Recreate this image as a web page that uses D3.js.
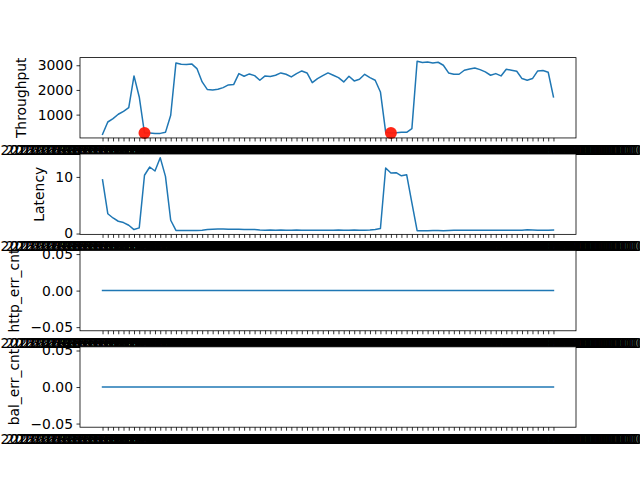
<!DOCTYPE html>
<html>
<head>
<meta charset="utf-8">
<script src="https://cdn.jsdelivr.net/npm/d3@7"></script>
<style>
  html, body { margin: 0; padding: 0; background: #fff; }
  svg { display: block; font-family: "DejaVu Sans", sans-serif; }
</style>
</head>
<body>
<script>
// ---------------- data ----------------
const throughput = [203,701,840,1014,1135,1285,2568,1716,256,256,
  240,240,282,973,3095,3041,3027,3054,2865,2324,
  2014,2000,2027,2095,2203,2216,2662,2554,2649,2581,
  2392,2568,2541,2595,2689,2635,2527,2662,2770,2689,
  2297,2460,2581,2689,2595,2500,2324,2554,2365,2432,
  2635,2500,2392,1919,290,260,270,283,283,432,
  3162,3108,3135,3095,3122,3000,2689,2635,2635,2797,
  2851,2892,2824,2730,2595,2662,2568,2838,2797,2757,
  2460,2392,2460,2770,2784,2716,1716];
const latency = [9.5,3.5,2.75,2.17,1.94,1.46,0.7,1.0,10.3,11.75,
  11.05,13.4,10.1,2.35,0.55,0.52,0.52,0.53,0.55,0.6,
  0.7,0.78,0.8,0.8,0.78,0.76,0.75,0.72,0.7,0.72,
  0.62,0.6,0.62,0.6,0.62,0.6,0.6,0.62,0.6,0.6,
  0.6,0.6,0.58,0.6,0.6,0.62,0.6,0.6,0.62,0.6,
  0.6,0.62,0.7,0.9,11.57,10.7,10.75,10.2,10.4,5.4,
  0.5,0.5,0.5,0.52,0.52,0.5,0.55,0.58,0.58,0.6,
  0.6,0.58,0.58,0.6,0.58,0.58,0.6,0.6,0.58,0.58,
  0.6,0.65,0.62,0.58,0.6,0.6,0.62];
const httpErrCnt = [0,0,0,0,0,0,0,0,0,0, 0,0,0,0,0,0,0,0,0,0, 0,0,0,0,0,0,0,0,0,0,
  0,0,0,0,0,0,0,0,0,0, 0,0,0,0,0,0,0,0,0,0, 0,0,0,0,0,0,0,0,0,0,
  0,0,0,0,0,0,0,0,0,0, 0,0,0,0,0,0,0,0,0,0, 0,0,0,0,0,0,0];
const balErrCnt = [0,0,0,0,0,0,0,0,0,0, 0,0,0,0,0,0,0,0,0,0, 0,0,0,0,0,0,0,0,0,0,
  0,0,0,0,0,0,0,0,0,0, 0,0,0,0,0,0,0,0,0,0, 0,0,0,0,0,0,0,0,0,0,
  0,0,0,0,0,0,0,0,0,0, 0,0,0,0,0,0,0,0,0,0, 0,0,0,0,0,0,0];
const anomalyIdx = [8, 55];

const timeLabels = [
"2023-07-15 10:00:00.000000","2023-07-15 10:01:00.000000","2023-07-15 10:02:00.000000","2023-07-15 10:03:00.000000",
"2023-07-15 10:04:00.000000","2023-07-15 10:05:00.000000","2023-07-15 10:06:00.000000","2023-07-15 10:07:00.000000",
"2023-07-15 10:08:00.000000","2023-07-15 10:09:00.000000","2023-07-15 10:10:00.000000","2023-07-15 10:11:00.000000",
"2023-07-15 10:12:00.000000","2023-07-15 10:13:00.000000","2023-07-15 10:14:00.000000","2023-07-15 10:15:00.000000",
"2023-07-15 10:16:00.000000","2023-07-15 10:17:00.000000","2023-07-15 10:18:00.000000","2023-07-15 10:19:00.000000",
"2023-07-15 10:20:00.000000","2023-07-15 10:21:00.000000","2023-07-15 10:22:00.000000","2023-07-15 10:23:00.000000",
"2023-07-15 10:24:00.000000","2023-07-15 10:25:00.000000","2023-07-15 10:26:00.000000","2023-07-15 10:27:00.000000",
"2023-07-15 10:28:00.000000","2023-07-15 10:29:00.000000","2023-07-15 10:30:00.000000","2023-07-15 10:31:00.000000",
"2023-07-15 10:32:00.000000","2023-07-15 10:33:00.000000","2023-07-15 10:34:00.000000","2023-07-15 10:35:00.000000",
"2023-07-15 10:36:00.000000","2023-07-15 10:37:00.000000","2023-07-15 10:38:00.000000","2023-07-15 10:39:00.000000",
"2023-07-15 10:40:00.000000","2023-07-15 10:41:00.000000","2023-07-15 10:42:00.000000","2023-07-15 10:43:00.000000",
"2023-07-15 10:44:00.000000","2023-07-15 10:45:00.000000","2023-07-15 10:46:00.000000","2023-07-15 10:47:00.000000",
"2023-07-15 10:48:00.000000","2023-07-15 10:49:00.000000","2023-07-15 10:50:00.000000","2023-07-15 10:51:00.000000",
"2023-07-15 10:52:00.000000","2023-07-15 10:53:00.000000","2023-07-15 10:54:00.000000","2023-07-15 10:55:00.000000",
"2023-07-15 10:56:00.000000","2023-07-15 10:57:00.000000","2023-07-15 10:58:00.000000","2023-07-15 10:59:00.000000",
"2023-07-15 11:00:00.000000","2023-07-15 11:01:00.000000","2023-07-15 11:02:00.000000","2023-07-15 11:03:00.000000",
"2023-07-15 11:04:00.000000","2023-07-15 11:05:00.000000","2023-07-15 11:06:00.000000","2023-07-15 11:07:00.000000",
"2023-07-15 11:08:00.000000","2023-07-15 11:09:00.000000","2023-07-15 11:10:00.000000","2023-07-15 11:11:00.000000",
"2023-07-15 11:12:00.000000","2023-07-15 11:13:00.000000","2023-07-15 11:14:00.000000","2023-07-15 11:15:00.000000",
"2023-07-15 11:16:00.000000","2023-07-15 11:17:00.000000","2023-07-15 11:18:00.000000","2023-07-15 11:19:00.000000",
"2023-07-15 11:20:00.000000","2023-07-15 11:21:00.000000","2023-07-15 11:22:00.000000","2023-07-15 11:23:00.000000",
"2023-07-15 11:24:00.000000","2023-07-15 11:25:00.000000","2023-07-15 11:26:00.000000"];

const seriesNames = ["Throughput", "Latency", "http_err_cnt", "bal_err_cnt"];
const yTicks = [[1000, 2000, 3000], [0, 10], [-0.05, 0, 0.05], [-0.05, 0, 0.05]];
const yFormats = [d3.format("d"), d3.format("d"), d3.format(".2f"), d3.format(".2f")];

// ---------------- layout ----------------
const W = 640, H = 480;
const L = 80, R = 576, T = 57.6, B = 427.2;
const nP = 4, hs = 0.2;
const ph = (B - T) / (nP + hs * (nP - 1));
const gap = ph * hs;
const FS = 13.9;
const lineColor = "#1f77b4";

const svg = d3.select("body").append("svg").attr("width", W).attr("height", H);
svg.append("rect").attr("width", W).attr("height", H).attr("fill", "#fff");

const allSeries = [throughput, latency, httpErrCnt, balErrCnt];
const nPts = throughput.length;
const idx = d3.range(nPts);
const xpad = 0.05 * (nPts - 1);
const x = d3.scaleLinear().domain([-xpad, nPts - 1 + xpad]).range([L, R]);

allSeries.forEach((vals, k) => {
  const y0 = T + k * (ph + gap), y1 = y0 + ph;
  let [mn, mx] = d3.extent(vals);
  let dom;
  if (mx - mn === 0) dom = [mn - 0.055, mx + 0.055];
  else { const p = 0.05 * (mx - mn); dom = [mn - p, mx + p]; }
  const y = d3.scaleLinear().domain(dom).range([y1, y0]);

  const g = svg.append("g");
  g.append("rect").attr("x", L).attr("y", y0).attr("width", R - L).attr("height", ph).attr("fill", "#fff");

  g.append("path")
    .datum(vals)
    .attr("fill", "none")
    .attr("stroke", lineColor)
    .attr("stroke-width", 1.5)
    .attr("stroke-linejoin", "round")
    .attr("stroke-linecap", "square")
    .attr("d", d3.line().x((d, i) => x(i)).y(d => y(d)));

  if (k === 0) {
    g.selectAll("circle.anom").data(anomalyIdx).enter().append("circle")
      .attr("class", "anom")
      .attr("cx", i => x(i)).attr("cy", i => y(vals[i]))
      .attr("r", 6).attr("fill", "#ff1a0a").attr("opacity", 0.95);
  }

  // x axis
  const xAxis = g.append("g").attr("transform", `translate(0,${y1})`)
    .call(d3.axisBottom(x).tickValues(idx).tickFormat(i => timeLabels[i]).tickSize(3.5).tickPadding(3.5));
  xAxis.select(".domain").remove();
  xAxis.selectAll("line").attr("stroke", "#000").attr("stroke-width", 0.8);
  xAxis.selectAll("text").attr("fill", "#000").attr("font-size", FS).attr("font-family", "DejaVu Sans");

  // y axis
  const yAxis = g.append("g").attr("transform", `translate(${L},0)`)
    .call(d3.axisLeft(y).tickValues(yTicks[k]).tickFormat(yFormats[k]).tickSize(3.5).tickPadding(3.5));
  yAxis.select(".domain").remove();
  yAxis.selectAll("line").attr("stroke", "#000").attr("stroke-width", 0.8);
  yAxis.selectAll("text").attr("fill", "#000").attr("font-size", FS).attr("font-family", "DejaVu Sans");

  let maxW = 0;
  yAxis.selectAll("text").each(function () { maxW = Math.max(maxW, this.getComputedTextLength()); });

  // spines
  g.append("rect").attr("x", L).attr("y", y0).attr("width", R - L).attr("height", ph)
    .attr("fill", "none").attr("stroke", "#000").attr("stroke-width", 0.8);

  // y label
  const lx = L - 7 - maxW - 5.6 - 5.8;
  g.append("text")
    .attr("transform", `translate(${lx},${(y0 + y1) / 2}) rotate(-90)`)
    .attr("text-anchor", "middle")
    .attr("font-size", FS)
    .attr("fill", "#000")
    .text(seriesNames[k]);
});
</script>
</body>
</html>
